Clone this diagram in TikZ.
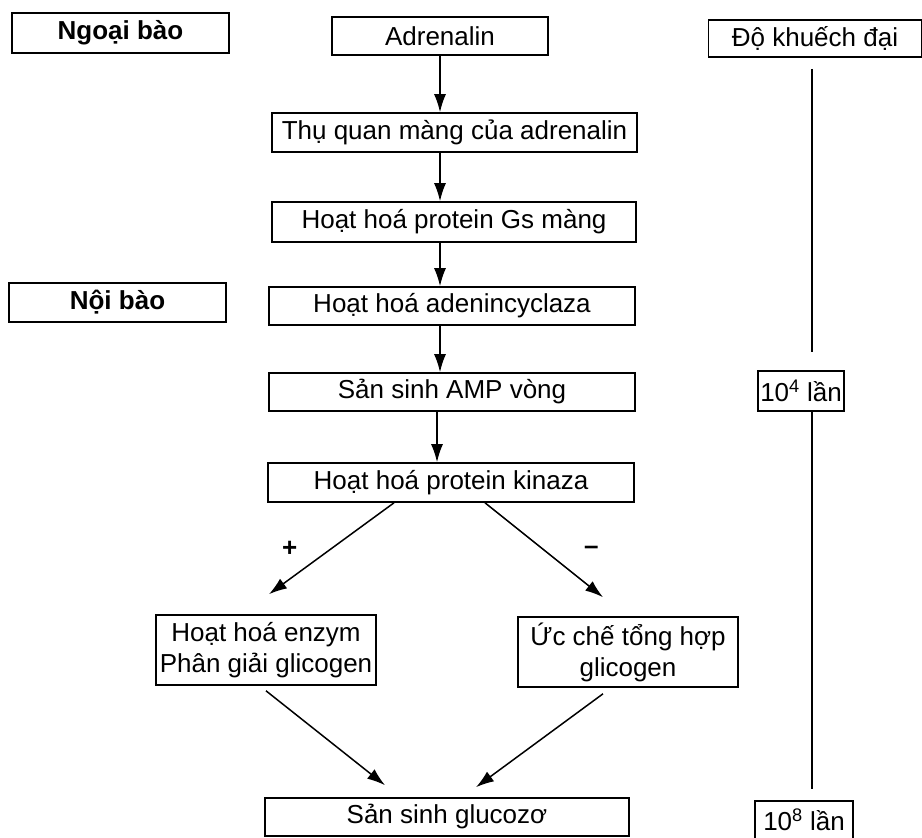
\documentclass[tikz,border=0pt]{standalone}
\usepackage{fontspec}
\setmainfont{Liberation Sans}
\usepackage{tikz}
\usetikzlibrary{arrows.meta,positioning}

\tikzset{
	hop/.style={draw, line width=1.6pt, align=center, inner sep=2pt,
		font=\fontsize{26}{31}\selectfont},
	tag/.style={hop, font=\fontsize{26}{31}\selectfont\bfseries},
	sign/.style={font=\fontsize{26}{30}\selectfont\bfseries},
	step arrow/.style={line width=1.5pt, -{Latex[length=18pt,width=12pt]}},
}

\begin{document}
\begin{tikzpicture}[x=1pt,y=-1pt]
	\useasboundingbox (0,0) rectangle (922,838);
	% compartments and gain column
	\node[tag, minimum width=217pt, minimum height=40pt] (ngoai) at (120.5,33) {Ngoại bào};
	\node[tag, minimum width=217pt, minimum height=39pt] (noi) at (117.5,302.5) {Nội bào};
	\node[hop, minimum width=213pt, minimum height=37pt] (dokd) at (815,38.5) {Độ khuếch đại};
	\node[hop, minimum width=86pt, minimum height=40pt] (l4) at (801,391) {10\textsuperscript{4} lần};
	\node[hop, minimum width=98pt, minimum height=38pt] (l8) at (804,820) {10\textsuperscript{8} lần};
	% the cascade
	\node[hop, minimum width=216pt, minimum height=38pt] (adr) at (440,36) {Adrenalin};
	\node[hop, minimum width=365pt, minimum height=39pt] (thuquan) at (454.5,132.5) {Thụ quan màng của adrenalin};
	\node[hop, minimum width=364pt, minimum height=40pt] (gs) at (454,222) {Hoạt hoá protein Gs màng};
	\node[hop, minimum width=366pt, minimum height=38pt] (adc) at (452,306) {Hoạt hoá adenincyclaza};
	\node[hop, minimum width=366pt, minimum height=38pt] (amp) at (452,392) {Sản sinh AMP vòng};
	\node[hop, minimum width=366pt, minimum height=39pt] (pk) at (451,482.5) {Hoạt hoá protein kinaza};
	\node[hop, minimum width=220pt, minimum height=70pt] (enz) at (266,650) {Hoạt hoá enzym\\Phân giải glicogen};
	\node[hop, minimum width=220pt, minimum height=70pt] (ucche) at (628,652) {Ức chế tổng hợp\\glicogen};
	\node[hop, minimum width=364pt, minimum height=38pt] (gluc) at (447,817) {Sản sinh glucozơ};

	\coordinate (ax) at (812,0);
	\draw[line width=1.3pt] ([yshift=-11pt]dokd.south -| ax) -- ([yshift=18pt]l4.north -| ax);
	\draw[line width=1.3pt] (l4.south -| ax) -- ([yshift=11pt]l8.north -| ax);

	\path[step arrow]
	(adr.south) edge (adr.south |- thuquan.north)
	(thuquan.south -| adr) edge (gs.north -| adr)
	(gs.south -| adr) edge (adc.north -| adr)
	(adc.south -| adr) edge (amp.north -| adr)
	([xshift=-3pt]amp.south -| adr) edge ([xshift=-3pt]pk.north -| adr)
	([xshift=-57pt]pk.south) edge node[midway, sign, left=30pt]{+} ([xshift=3pt,yshift=20pt]enz.north)
	([xshift=34pt]pk.south) edge node[midway, sign, right=36pt]{–} ([xshift=-25pt,yshift=19pt]ucche.north)
	([yshift=-5pt]enz.south) edge ([xshift=-62pt,yshift=12pt]gluc.north)
	([xshift=-25pt,yshift=-6pt]ucche.south) edge ([xshift=29pt,yshift=10pt]gluc.north);
\end{tikzpicture}
\end{document}
